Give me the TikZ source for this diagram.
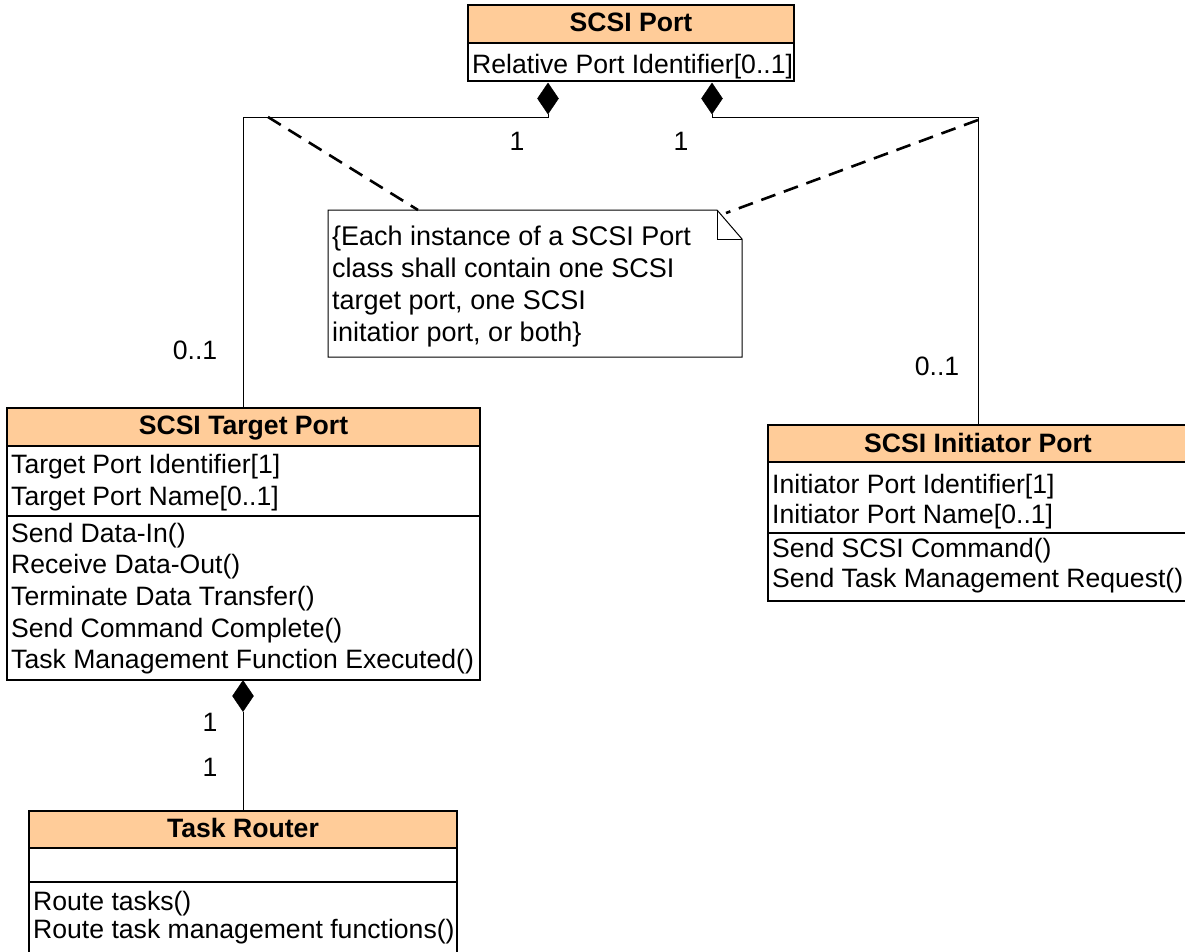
\documentclass[tikz,border=0pt]{standalone}
\usepackage{fontspec}
\setmainfont{Liberation Sans}
\usetikzlibrary{shapes.geometric}
\definecolor{peach}{HTML}{FFCC99}
\tikzset{
  cls/.style={draw, line width=1.4pt, anchor=north west, inner sep=0pt, outer sep=0pt},
  hdr/.style={cls, fill=peach},
  txt/.style={anchor=base west, inner sep=0pt, font=\fontsize{26.6}{32}\selectfont},
  notetxt/.style={anchor=base west, inner sep=0pt, font=\fontsize{27}{32}\selectfont},
  htxt/.style={anchor=base, inner sep=0pt, font=\fontsize{26.6}{32}\selectfont\bfseries},
  mult/.style={anchor=base, inner sep=0pt, font=\fontsize{26.6}{32}\selectfont},
  conn/.style={line width=1pt},
  notelink/.style={line width=2.6pt, dash pattern=on 15pt off 9pt},
  comp/.style={diamond, fill=black, draw=black, inner sep=0pt, outer sep=0pt, minimum width=21pt, minimum height=31pt},
}
\begin{document}
\begin{tikzpicture}[x=1pt, y=-1pt]
\useasboundingbox (0,0) rectangle (1185,951);
\fill[white] (0,0) rectangle (1185,951);

% ---------- SCSI Port
\node[hdr, minimum width=326pt, minimum height=38pt] (porth) at (468,5) {};
\node[cls, minimum width=326pt, minimum height=38pt] (porta) at (468,43) {};
\node[htxt] (portt) at (631,31) {SCSI Port};
\node[txt] (porta1) at (472,73) {Relative Port Identifier[0..1]};

% ---------- SCSI Target Port
\node[hdr, minimum width=473pt, minimum height=38pt] (tgth) at (7,408) {};
\node[cls, minimum width=473pt, minimum height=70pt] (tgta) at (7,446) {};
\node[cls, minimum width=473pt, minimum height=164pt] (tgto) at (7,516) {};
\node[htxt] (tgtt) at (243.5,434) {SCSI Target Port};
\node[txt] (tgta1) at (11,473) {Target Port Identifier[1]};
\node[txt] (tgta2) at (11,505) {Target Port Name[0..1]};
\node[txt] (tgto1) at (11,542) {Send Data-In()};
\node[txt] (tgto2) at (11,573) {Receive Data-Out()};
\node[txt] (tgto3) at (11,605) {Terminate Data Transfer()};
\node[txt] (tgto4) at (11,637) {Send Command Complete()};
\node[txt] (tgto5) at (11,668) {Task Management Function Executed()};

% ---------- SCSI Initiator Port
\node[hdr, minimum width=430pt, minimum height=37pt] (inih) at (768,425) {};
\node[cls, minimum width=430pt, minimum height=71pt] (inia) at (768,462) {};
\node[cls, minimum width=430pt, minimum height=68pt] (inio) at (768,533) {};
\node[htxt] (init) at (978,452) {SCSI Initiator Port};
\node[txt] (inia1) at (772,493) {Initiator Port Identifier[1]};
\node[txt] (inia2) at (772,523) {Initiator Port Name[0..1]};
\node[txt] (inio1) at (772,557) {Send SCSI Command()};
\node[txt] (inio2) at (772,587) {Send Task Management Request()};

% ---------- Task Router
\node[hdr, minimum width=428pt, minimum height=37pt] (trh) at (29,811) {};
\node[cls, minimum width=428pt, minimum height=34pt] (tra) at (29,848) {};
\node[cls, minimum width=428pt, minimum height=72pt] (tro) at (29,882) {};
\node[htxt] (trt) at (243,837) {Task Router};
\node[txt] (tro1) at (33,910) {Route tasks()};
\node[txt] (tro2) at (33,938) {Route task management functions()};

% ---------- Note
\coordinate (nA) at (328,210);
\coordinate (nB) at (717,210);
\coordinate (nC) at (742,239);
\coordinate (nD) at (742,357);
\coordinate (nE) at (328,357);
\draw[line width=1pt, fill=white] (nA) -- (nB) -- (nC) -- (nD) -- (nE) -- cycle;
\draw[line width=1pt] (nB) -- (717,239) -- (nC);
\node[notetxt] (n1) at (332,245) {\{Each instance of a SCSI Port};
\node[notetxt] (n2) at (332,277) {class shall contain one SCSI};
\node[notetxt] (n3) at (332,309) {target port, one SCSI};
\node[notetxt] (n4) at (332,341) {initatior port, or both\}};

% ---------- Composition diamonds
\node[comp] (dL) at (548,98.5) {};
\node[comp] (dR) at (712,98.5) {};
\node[comp] (dT) at (243,696) {};

% ---------- Connectors
\coordinate (jL) at (243,117);
\coordinate (jR) at (978,117);
\draw[conn] (dL.south) |- (jL) -- (tgth.north -| jL);
\draw[conn] (dR.south) |- (jR) -- (inih.north -| jR);
\draw[conn] (dT.south) -- (trh.north -| dT);

% note links
\coordinate (lkL) at (268,117);
\coordinate (lkR) at (978,120);
\draw[notelink] (lkL) -- (418,210);
\draw[notelink] (lkR) -- (726,213);

% ---------- Multiplicities
\node[mult] (m1) at (517,150) {1};
\node[mult] (m2) at (681,150) {1};
\node[mult] (m3) at (195,359) {0..1};
\node[mult] (m4) at (937,375) {0..1};
\node[mult] (m5) at (210,731) {1};
\node[mult] (m6) at (210,776) {1};
\end{tikzpicture}
\end{document}
